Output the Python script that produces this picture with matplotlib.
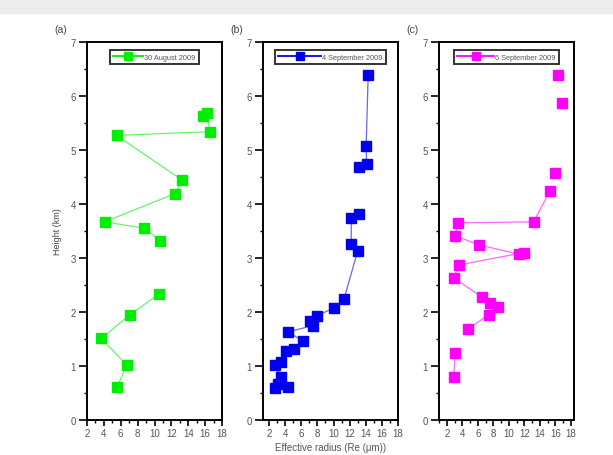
import numpy as np
import matplotlib
matplotlib.use("Agg")
import matplotlib.pyplot as plt
from matplotlib.ticker import MultipleLocator

plt.rcParams["font.family"] = ["Liberation Sans", "DejaVu Sans"]

nan = np.nan

# (a) 30 August 2009 -- nan breaks the line
re_a = [5.6, 6.7, 3.7, 7.1, 10.5, nan, 10.7, 8.8, 4.1, 12.4, 13.3, 5.5, 16.6, 16.2, 15.8]
h_a = [0.62, 1.02, 1.51, 1.95, 2.33, nan, 3.32, 3.55, 3.67, 4.19, 4.44, 5.27, 5.34, 5.69, 5.63]

# (b) 4 September 2009
re_b = [2.7, 4.3, 3.05, 3.5, 2.7, 3.5, 4.1, 5.1, 6.2, 4.3, 7.5, 7.1, 7.9, 10.0, 11.3,
        13.0, 12.2, 12.2, 13.2, nan, 13.2, 14.1, 14.05, 14.3]
h_b = [0.59, 0.62, 0.67, 0.80, 1.02, 1.07, 1.28, 1.31, 1.47, 1.63, 1.75, 1.84, 1.93, 2.07, 2.24,
       3.13, 3.26, 3.74, 3.81, nan, 4.69, 4.74, 5.08, 6.38]

# (c) 6 September 2009
re_c = [2.9, 3.1, nan, 4.7, 7.4, 8.55, 7.6, 6.5, 2.9, 3.55, 11.9, 11.35, 6.2, 3.1, 3.4, 13.2, 15.3,
        nan, 15.9, nan, 16.8, nan, 16.4]
h_c = [0.80, 1.24, nan, 1.68, 1.95, 2.10, 2.16, 2.28, 2.63, 2.87, 3.10, 3.07, 3.24, 3.41, 3.65, 3.67, 4.24,
       nan, 4.57, nan, 5.87, nan, 6.38]

labels = ["30 August 2009", "4 September 2009", "6 September 2009"]
colors = ["#00ee00", "#0000ee", "#ff00ff"]
panels = ["(a)", "(b)", "(c)"]
xlims = [(2, 18), (1.25, 18), (1, 18.4)]
handle_len = [4.0, 5.8, 5.0]

W, H = 613, 456
fig = plt.figure(figsize=(W / 100, H / 100), dpi=100)
fig.patches.append(plt.Rectangle((0, 1 - 14 / H), 1, 14 / H, transform=fig.transFigure,
                                 color="#ececec", zorder=0))

lefts = [87, 263, 439]
data = [(re_a, h_a), (re_b, h_b), (re_c, h_c)]
tick_col = "#555555"

for i, (x, y) in enumerate(data):
    ax = fig.add_axes([lefts[i] / W, (H - 421) / H, 135 / W, 378 / H])
    ax.plot(x, y, "-", color=colors[i], lw=0.9, alpha=0.6)
    ax.plot(x, y, "s", color=colors[i], ms=6.8, lw=0)
    # legend handle: line with marker
    h, = ax.plot([], [], "-s", color=colors[i], ms=5.5, lw=1.3)
    leg = ax.legend([h], [labels[i]], loc="upper center", bbox_to_anchor=(0.5, 0.978),
                    fontsize=5.3, frameon=True, fancybox=False, handlelength=handle_len[i],
                    borderpad=0.45, handletextpad=0.2, borderaxespad=0,
                    labelcolor="#555555")
    leg.get_frame().set_edgecolor("black")
    leg.get_frame().set_linewidth(1.4)
    ax.set_xlim(*xlims[i])
    ax.set_ylim(0, 7)
    ax.xaxis.set_major_locator(MultipleLocator(2))
    ax.xaxis.set_minor_locator(MultipleLocator(1))
    ax.yaxis.set_major_locator(MultipleLocator(1))
    ax.yaxis.set_minor_locator(MultipleLocator(0.5))
    ax.tick_params(which="major", direction="out", length=4, width=1.2,
                   labelsize=7, labelcolor=tick_col, pad=2)
    ax.tick_params(axis="y", which="major", length=5.5, pad=2.5)
    ax.tick_params(which="minor", direction="out", length=2.5, width=1.0)
    for s in ax.spines.values():
        s.set_linewidth(1.4)
    ax.text(-0.24, 1.02, panels[i], transform=ax.transAxes, fontsize=7.5,
            color="#444444", va="bottom")
    if i == 0:
        ax.set_ylabel("Height (km)", fontsize=6.5, color="#444444", labelpad=6)
    if i == 1:
        ax.set_xlabel("Effective radius (Re (\u03bcm))", fontsize=7, color="#555555", labelpad=3)

fig.savefig("out.png", dpi=100)
